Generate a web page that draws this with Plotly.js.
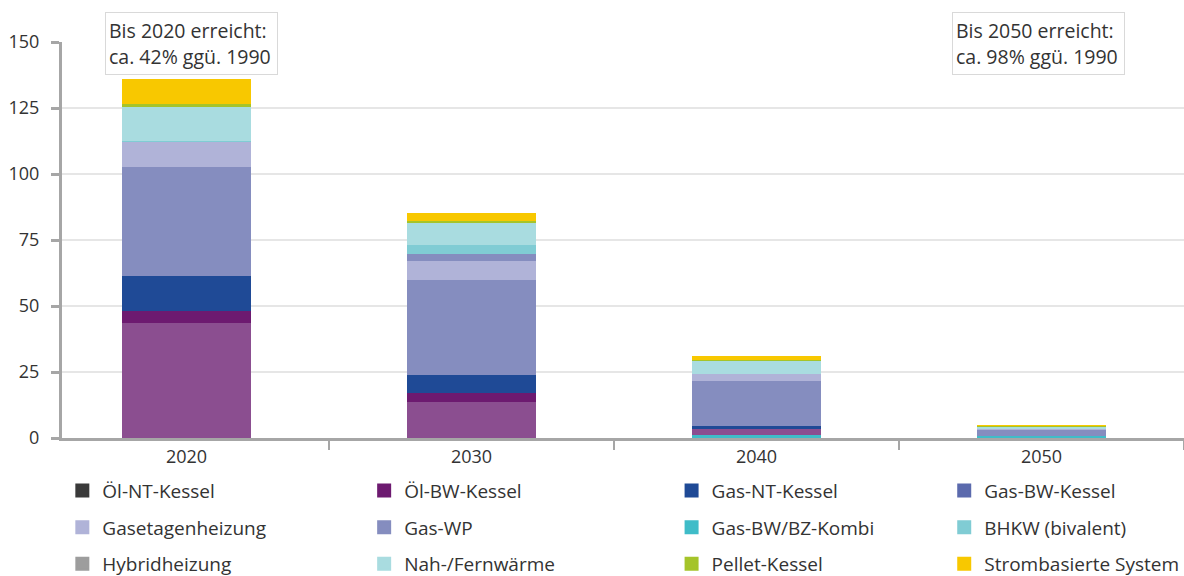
<!DOCTYPE html>
<html>
<head>
<meta charset="utf-8">
<script src="https://cdn.plot.ly/plotly-3.0.1.min.js"></script>
<style>
  html, body { margin: 0; padding: 0; background: #ffffff; }
  #chart { width: 1184px; height: 576px; }
</style>
</head>
<body>
<div id="chart"></div>
<script>
// ---- Data ----
const categories = ['2020', '2030', '2040', '2050'];

const gasBwBzKombi   = [0,    0,    1.1,  0.8];
const oelNtKessel    = [43.6, 13.6, 2.3,  0];
const oelBwKessel    = [4.5,  3.4,  0,    0];
const gasNtKessel    = [13.3, 6.9,  1.0,  0];
const gasWp          = [41.4, 35.9, 17.1, 2.2];
const gasetagen      = [9.4,  7.2,  2.6,  0.4];
const gasBwKessel    = [0,    2.7,  0,    0];
const bhkw           = [0.4,  3.4,  0,    0];
const hybrid         = [0,    0,    0,    0];
const nahFernwaerme  = [12.9, 8.3,  5.0,  0.6];
const pelletKessel   = [1.2,  0.8,  0.6,  0.7];
const stromSysteme   = [9.3,  3.1,  1.3,  0.2];

const yTickValues = [0, 25, 50, 75, 100, 125, 150];

const note2020 = 'Bis 2020 erreicht:<br>ca. 42% ggü. 1990';
const note2050 = 'Bis 2050 erreicht:<br>ca. 98% ggü. 1990';

// Stack order (bottom to top) with the colours the bars show
const stackSeries = [
  {name: 'Gas-BW/BZ-Kombi',     values: gasBwBzKombi,  color: '#3fbcc8'},
  {name: 'Öl-NT-Kessel',        values: oelNtKessel,   color: '#8b4e90'},
  {name: 'Öl-BW-Kessel',        values: oelBwKessel,   color: '#6d1a70'},
  {name: 'Gas-NT-Kessel',       values: gasNtKessel,   color: '#1f4a96'},
  {name: 'Gas-WP',              values: gasWp,         color: '#858dbf'},
  {name: 'Gasetagenheizung',    values: gasetagen,     color: '#b0b3d8'},
  {name: 'Gas-BW-Kessel',       values: gasBwKessel,   color: '#858dbf'},
  {name: 'BHKW (bivalent)',     values: bhkw,          color: '#80ccd4'},
  {name: 'Hybridheizung',       values: hybrid,        color: '#9d9d9d'},
  {name: 'Nah-/Fernwärme',      values: nahFernwaerme, color: '#a9dce0'},
  {name: 'Pellet-Kessel',       values: pelletKessel,  color: '#a5c42a'},
  {name: 'Strombasierte System',values: stromSysteme,  color: '#f8c800'}
];

// Legend entries, in column order, with the legend swatch colours
const legendColumns = [
  [['Öl-NT-Kessel', '#3a3a3a'], ['Gasetagenheizung', '#b0b3d8'], ['Hybridheizung', '#9d9d9d']],
  [['Öl-BW-Kessel', '#6d1a70'], ['Gas-WP', '#858dbf'], ['Nah-/Fernwärme', '#a9dce0']],
  [['Gas-NT-Kessel', '#1f4a96'], ['Gas-BW/BZ-Kombi', '#3fbcc8'], ['Pellet-Kessel', '#a5c42a']],
  [['Gas-BW-Kessel', '#5b6aad'], ['BHKW (bivalent)', '#80ccd4'], ['Strombasierte System', '#f8c800']]
];

const FONT = '"Open Sans", "Noto Sans", sans-serif';
const TXT = '#333333';

const traces = stackSeries.map(s => ({
  type: 'bar',
  name: s.name,
  x: categories,
  y: s.values,
  marker: {color: s.color, line: {width: 0}},
  showlegend: false,
  hoverinfo: 'x+y+name'
}));

const legendIds = ['legend', 'legend2', 'legend3', 'legend4'];
legendColumns.forEach((col, ci) => {
  col.forEach((entry, ri) => {
    traces.push({
      type: 'bar',
      name: entry[0],
      x: [null],
      y: [null],
      marker: {color: entry[1], line: {color: entry[1], width: 2}},
      legend: legendIds[ci],
      legendgroup: 'g' + ci + '_' + ri,
      showlegend: true
    });
  });
});

const legendX = [0.0003, 0.2693, 0.5433, 0.7863];
const legendBase = {
  orientation: 'v',
  xanchor: 'left',
  yanchor: 'top',
  y: -0.0848,
  bgcolor: 'rgba(0,0,0,0)',
  borderwidth: 0,
  tracegroupgap: 9,
  traceorder: 'grouped',
  font: {family: FONT, size: 19, color: TXT}
};

const layout = {
  width: 1184,
  height: 576,
  margin: {l: 62, r: 0, t: 42, b: 138, autoexpand: false},
  paper_bgcolor: '#ffffff',
  plot_bgcolor: '#ffffff',
  barmode: 'stack',
  bargap: 0.547,
  font: {family: FONT, size: 18, color: TXT},
  xaxis: {
    type: 'category',
    range: [-0.437, 3.5],
    showline: true,
    linecolor: '#a6a6a6',
    linewidth: 3,
    ticks: 'outside',
    tickson: 'boundaries',
    ticklen: 9,
    tickwidth: 2,
    tickcolor: '#a6a6a6',
    showgrid: false,
    zeroline: false,
    tickfont: {family: FONT, size: 18, color: TXT}
  },
  yaxis: {
    range: [0, 150],
    tickvals: yTickValues,
    showline: true,
    linecolor: '#a6a6a6',
    linewidth: 3,
    ticks: 'outside',
    ticklen: 8,
    tickwidth: 3,
    tickcolor: '#a6a6a6',
    ticklabelstandoff: 8,
    showgrid: true,
    gridcolor: '#e6e6e6',
    gridwidth: 2,
    zeroline: false,
    tickfont: {family: FONT, size: 18, color: TXT}
  },
  annotations: [
    {
      text: note2020, xref: 'paper', yref: 'paper',
      x: (105 - 62) / 1122, y: (438 - 12) / 396,
      xanchor: 'left', yanchor: 'top', align: 'left', valign: 'middle',
      showarrow: false, width: 165, height: 55,
      bgcolor: '#ffffff', bordercolor: '#d9d9d9', borderwidth: 1, borderpad: 3,
      font: {family: FONT, size: 19.5, color: TXT}
    },
    {
      text: note2050, xref: 'paper', yref: 'paper',
      x: (952 - 62) / 1122, y: (438 - 12) / 396,
      xanchor: 'left', yanchor: 'top', align: 'left', valign: 'middle',
      showarrow: false, width: 165, height: 55,
      bgcolor: '#ffffff', bordercolor: '#d9d9d9', borderwidth: 1, borderpad: 3,
      font: {family: FONT, size: 19.5, color: TXT}
    }
  ]
};

legendIds.forEach((id, i) => {
  layout[id] = Object.assign({}, legendBase, {x: legendX[i]});
});

Plotly.newPlot('chart', traces, layout, {displayModeBar: false, responsive: false, staticPlot: true});
</script>
</body>
</html>
